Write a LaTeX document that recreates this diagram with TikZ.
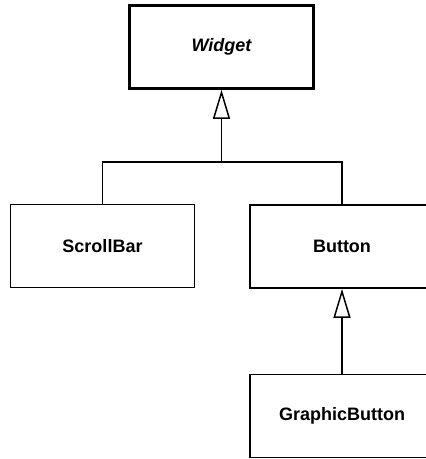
\documentclass[tikz,border=0pt]{standalone}
\usepackage{fontspec}
\setmainfont{Liberation Sans}
\usetikzlibrary{arrows.meta}
\begin{document}
\begin{tikzpicture}[x=1pt, y=-1pt,
    cls/.style={draw, line width=1.8pt, minimum width=184pt, minimum height=83pt,
      font=\fontsize{18}{22}\selectfont\bfseries},
    inherit/.style={-{Triangle[open, length=29pt, width=17pt, line width=1.5pt]}, line width=1.5pt}]
  \useasboundingbox (0, 0) rectangle (426, 459);
  \node[cls, line width=2.6pt] at (221.5, 47) (widget) {\itshape Widget};
  \node[cls] at (102.5, 246) (scrollbar) {ScrollBar};
  \node[cls] at (342, 246.5) (button) {Button};
  \node[cls] at (342, 416) (gbutton) {GraphicButton};
  \coordinate (fork) at (221.5, 162);
  \draw[line width=1.5pt] (scrollbar.north) |- (fork) -| (button.north);
  \draw[inherit] (fork) -- (widget.south);
  \draw[inherit] (gbutton.north) -- (button.south);
\end{tikzpicture}
\end{document}
